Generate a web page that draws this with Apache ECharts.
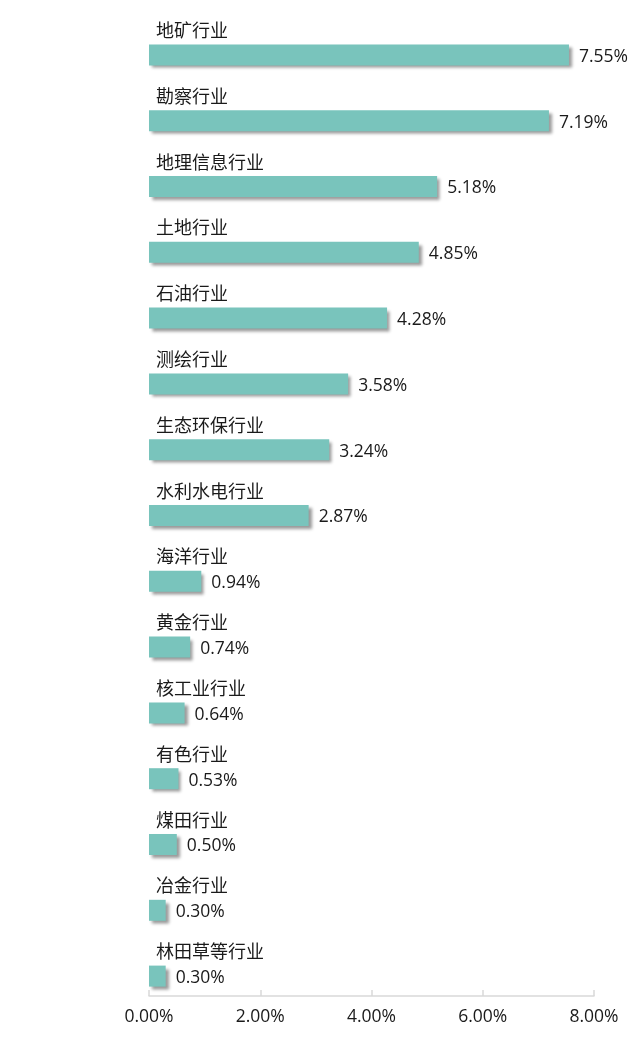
<!DOCTYPE html>
<html><head><meta charset="utf-8">
<script src="https://cdn.jsdelivr.net/npm/echarts@6/dist/echarts.min.js"></script>
<style>html,body{margin:0;padding:0;background:#fff}#c{width:641px;height:1045px}</style>
</head><body><div id="c"></div>
<script>
const categories = ['地矿行业','勘察行业','地理信息行业','土地行业','石油行业','测绘行业','生态环保行业','水利水电行业','海洋行业','黄金行业','核工业行业','有色行业','煤田行业','冶金行业','林田草等行业'];
const values = [7.55,7.19,5.18,4.85,4.28,3.58,3.24,2.87,0.94,0.74,0.64,0.53,0.50,0.30,0.30];
const xTicks = [0,2,4,6,8];

const font = '"Open Sans","Noto Sans CJK SC",sans-serif';
const chart = echarts.init(document.getElementById('c'));
chart.setOption({
  animation:false,
  textStyle:{fontFamily:font},
  grid:{left:149,right:47,top:22,bottom:36,containLabel:false},
  xAxis:{type:'value',min:xTicks[0],max:xTicks[xTicks.length-1],interval:2,offset:-13,
    axisLine:{show:true,lineStyle:{color:'#d9d9d9',width:1.5}},
    axisTick:{show:true,inside:true,length:6,lineStyle:{color:'#d9d9d9',width:1.5}},
    splitLine:{show:false},
    axisLabel:{margin:12,fontSize:17.5,color:'#1a1a1a',fontFamily:font,formatter:v=>v.toFixed(2)+'%'}},
  yAxis:{type:'category',inverse:true,data:categories,
    axisLine:{show:false},axisTick:{show:false},axisLabel:{show:false}},
  series:[
    {type:'bar',data:values,barWidth:21,
     itemStyle:{color:'#79c4bc',shadowColor:'rgba(0,0,0,0.4)',shadowBlur:3,shadowOffsetX:3,shadowOffsetY:3},
     label:{show:true,position:'right',distance:10,offset:[0,2],fontSize:17.5,color:'#1a1a1a',fontFamily:font,
       formatter:p=>p.value.toFixed(2)+'%'}},
    {type:'bar',data:values,barWidth:21,barGap:'-100%',silent:true,
     itemStyle:{color:'rgba(0,0,0,0)'},
     label:{show:true,position:'insideLeft',offset:[2,-23],fontSize:18,color:'#1a1a1a',fontFamily:font,
       formatter:p=>p.name}}
  ]
});
</script></body></html>
